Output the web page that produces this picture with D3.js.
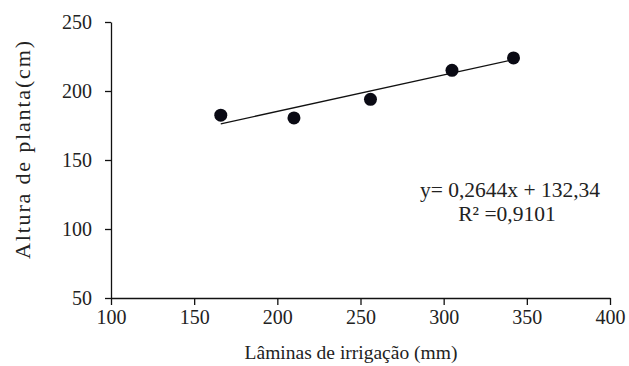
<!DOCTYPE html>
<html>
<head>
<meta charset="utf-8">
<script src="https://cdn.jsdelivr.net/npm/d3@7"></script>
<style>
  body { margin: 0; background: #fff; }
</style>
</head>
<body>
<svg></svg>
<script>
const laminas = [166, 210, 256, 305, 342];
const altura = [182.5, 180.5, 194, 215, 224];
const xTicks = [100, 150, 200, 250, 300, 350, 400];
const yTicks = [50, 100, 150, 200, 250];
const slope = 0.2644;
const intercept = 132.34;
const equation = ['y= 0,2644x + 132,34', 'R² =0,9101'];

const width = 629;
const height = 366;
const plotLeft = 111;
const plotRight = 610;
const plotTop = 22;
const plotBottom = 298;
const serif = 'Liberation Serif';

const svg = d3.select('svg').attr('width', width).attr('height', height);

const xScale = d3.scaleLinear().domain([100, 400]).range([plotLeft, plotRight]);
const yScale = d3.scaleLinear().domain([50, 250]).range([plotBottom, plotTop]);

const xAxis = d3.axisBottom(xScale).tickValues(xTicks).tickSize(7).tickSizeOuter(0).tickPadding(5);
const yAxis = d3.axisLeft(yScale).tickValues(yTicks).tickSize(6).tickSizeOuter(0).tickPadding(13);

svg.append('g')
  .attr('transform', 'translate(0,' + plotBottom + ')')
  .call(xAxis);

svg.append('g')
  .attr('transform', 'translate(' + plotLeft + ',0)')
  .call(yAxis);

svg.selectAll('g').attr('font-family', serif);
svg.selectAll('.domain, .tick line').attr('stroke', '#111').attr('stroke-width', 1.3);
svg.selectAll('.tick text')
  .attr('font-family', serif)
  .attr('font-size', 20)
  .attr('fill', '#222');

// linha de tendencia
const x0 = d3.min(laminas);
const x1 = d3.max(laminas);
svg.append('line')
  .attr('x1', xScale(x0))
  .attr('y1', yScale(slope * x0 + intercept))
  .attr('x2', xScale(x1))
  .attr('y2', yScale(slope * x1 + intercept))
  .attr('stroke', '#111')
  .attr('stroke-width', 1.3);

svg.selectAll('circle')
  .data(laminas)
  .enter()
  .append('circle')
  .attr('cx', (d) => xScale(d))
  .attr('cy', (d, i) => yScale(altura[i]))
  .attr('r', 6.5)
  .attr('fill', '#0a0a14');

svg.selectAll('.eq')
  .data(equation)
  .enter()
  .append('text')
  .attr('class', 'eq')
  .attr('x', (d, i) => (i === 0 ? 510 : 507))
  .attr('y', (d, i) => 197 + i * 24)
  .attr('text-anchor', 'middle')
  .attr('font-family', serif)
  .attr('font-size', 21.5)
  .attr('fill', '#222')
  .text((d) => d);

svg.append('text')
  .attr('x', 351)
  .attr('y', 359)
  .attr('text-anchor', 'middle')
  .attr('font-family', serif)
  .attr('font-size', 19.5)
  .attr('fill', '#222')
  .text('Lâminas de irrigação (mm)');

svg.append('text')
  .attr('transform', 'translate(30,150) rotate(-90)')
  .attr('text-anchor', 'middle')
  .attr('font-family', serif)
  .attr('font-size', 22)
  .attr('textLength', 218)
  .attr('lengthAdjust', 'spacing')
  .attr('fill', '#222')
  .text('Altura de planta(cm)');
</script>
</body>
</html>
